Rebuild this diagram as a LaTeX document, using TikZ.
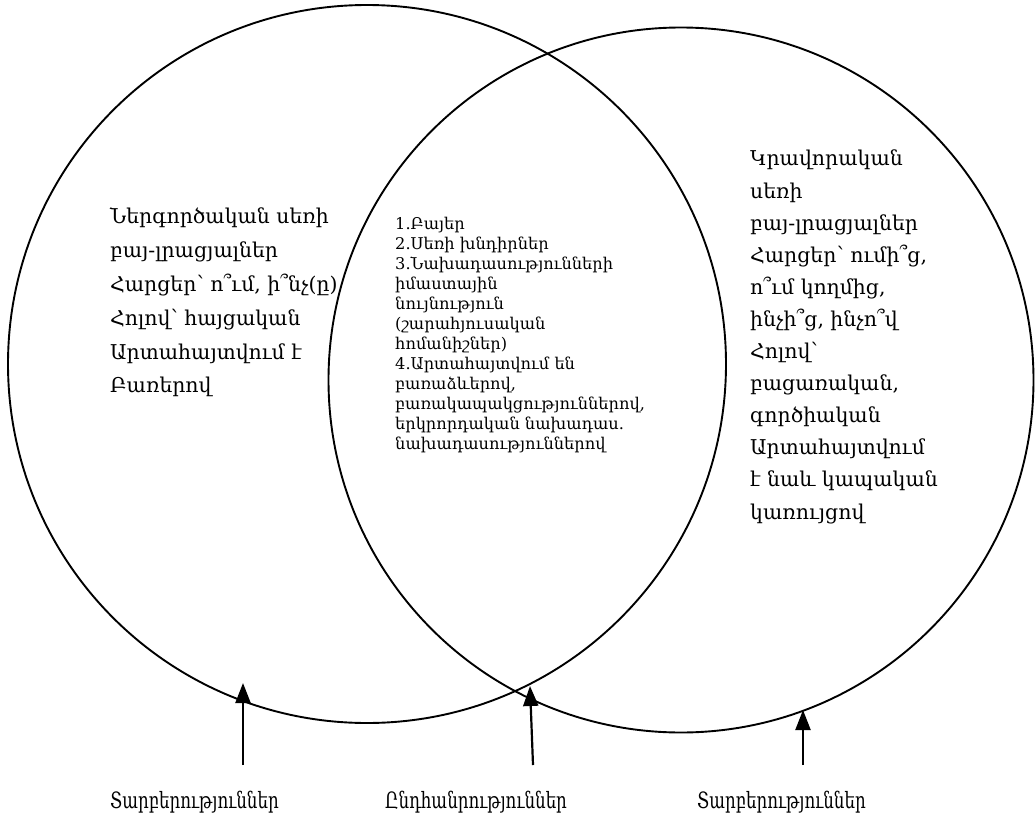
\documentclass[tikz,border=0pt]{standalone}
\usepackage{fontspec}
\setmainfont{DejaVu Serif}
\newfontfamily\labelfont[FakeStretch=0.74]{DejaVu Serif}
\usetikzlibrary{arrows.meta}
\tikzset{
  venn/.style={draw=black, line width=1.9pt, circle, inner sep=0pt},
  bigtext/.style={anchor=north west, inner sep=0pt, align=left,
    font=\fontsize{20.4}{33.8}\selectfont},
  righttext/.style={anchor=north west, inner sep=0pt, align=left,
    font=\fontsize{20.4}{32.1}\selectfont},
  midtext/.style={anchor=north west, inner sep=0pt, align=left,
    font=\fontsize{16.2}{20}\selectfont},
  labeltext/.style={anchor=base west, inner sep=0pt,
    font=\labelfont\fontsize{22.5}{26}\selectfont},
  pointer/.style={line width=2.2pt, -{Triangle[width=15pt,length=20pt]}}
}
\begin{document}
\begin{tikzpicture}[x=1pt,y=-1pt]
\useasboundingbox (0,0) rectangle (1036,827);
\node[venn, minimum size=718pt] (L) at (367,364) {};
\node[venn, minimum size=705pt] (R) at (681,380) {};

\node[bigtext] (lt) at (110,208) {Ներգործական սեռի\\բայ-լրացյալներ\\Հարցեր՝ ո՞ւմ, ի՞նչ(ը)\\Հոլով՝ հայցական\\Արտահայտվում է\\Բառերով};

\node[midtext] (mt) at (395,217) {1.Բայեր\\2.Սեռի խնդիրներ\\3.Նախադասությունների\\իմաստային\\նույնություն\\(շարահյուսական\\հոմանիշներ)\\4.Արտահայտվում են\\բառաձևերով,\\բառակապակցություններով,\\երկրորդական նախադաս.\\նախադասություններով};

\node[righttext] (rt) at (750,150) {Կրավորական\\սեռի\\բայ-լրացյալներ\\Հարցեր՝ ումի՞ց,\\ո՞ւմ կողմից,\\ինչի՞ց, ինչո՞վ\\Հոլով՝\\բացառական,\\գործիական\\Արտահայտվում\\է նաև կապական\\կառույցով};

\node[labeltext] (l1) at (110,808) {Տարբերություններ};
\node[labeltext] (l2) at (385,808) {Ընդհանրություններ};
\node[labeltext] (l3) at (697,808) {Տարբերություններ};

\coordinate (t1) at (243,765);
\coordinate (h1) at (243,683);
\coordinate (t2) at (533,765);
\coordinate (h2) at (530,686);
\coordinate (t3) at (803,765);
\coordinate (h3) at (803,710);
\draw[pointer] (t1) -- (h1);
\draw[pointer] (t2) -- (h2);
\draw[pointer] (t3) -- (h3);
\end{tikzpicture}
\end{document}
